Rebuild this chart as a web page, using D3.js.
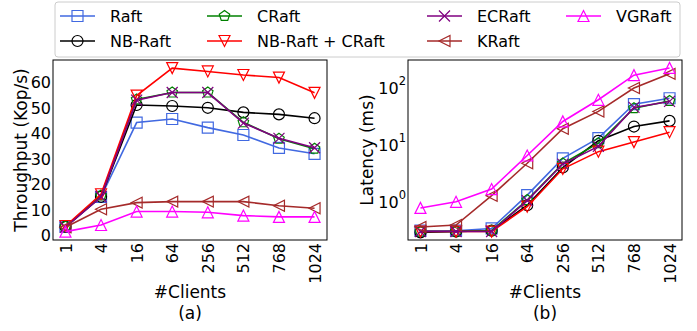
<!DOCTYPE html>
<html>
<head>
<meta charset="utf-8">
<script src="https://cdn.jsdelivr.net/npm/d3@7"></script>
<style>
  body { margin: 0; background: #fff; }
  text { font-family: "DejaVu Sans", sans-serif; fill: #000; }
</style>
</head>
<body>
<div class="canvas"></div>
<script>
const clients = ['1', '4', '16', '64', '256', '512', '768', '1024'];

const seriesNames = ['Raft', 'NB-Raft', 'CRaft', 'NB-Raft + CRaft', 'ECRaft', 'KRaft', 'VGRaft'];
const seriesColors = ['#4169e1', '#000000', '#008000', '#ff0000', '#800080', '#a52a2a', '#ff00ff'];
const seriesMarkers = ['square', 'circle', 'pentagon', 'tridown', 'cross', 'trileft', 'triup'];

// throughput (Kop/s)
const tputRaft = [3.3, 15.0, 44.2, 45.6, 42.2, 39.3, 34.2, 31.9];
const tputNB = [3.2, 15.0, 51.1, 50.7, 50.0, 48.2, 47.4, 45.9];
const tputCRaft = [3.3, 15.5, 53.3, 56.0, 56.0, 44.3, 37.8, 33.9];
const tputNBC = [3.5, 16.0, 54.8, 65.6, 64.3, 62.9, 61.9, 55.9];
const tputEC = [3.0, 15.0, 53.0, 56.0, 56.0, 44.0, 38.0, 34.3];
const tputK = [3.0, 10.1, 12.7, 13.1, 13.1, 13.1, 11.5, 10.5];
const tputVG = [1.3, 3.9, 9.2, 9.2, 8.9, 7.6, 7.1, 7.1];

// latency (ms)
const latRaft = [0.31, 0.31, 0.34, 1.31, 5.8, 13.1, 52, 66];
const latNB = [0.29, 0.30, 0.31, 0.87, 4.0, 11.8, 21, 26.4];
const latCRaft = [0.30, 0.30, 0.31, 1.07, 4.7, 10.7, 44, 59];
const latNBC = [0.30, 0.30, 0.30, 0.82, 3.8, 7.6, 11.2, 16.7];
const latEC = [0.30, 0.30, 0.30, 1.05, 4.6, 9.4, 45.6, 58];
const latK = [0.36, 0.39, 1.28, 4.75, 19.2, 38.7, 100, 177];
const latVG = [0.78, 1.0, 1.67, 6.5, 25.8, 62, 168, 225];

const tputTicks = [0, 10, 20, 30, 40, 50, 60];
const latTicks = [1, 10, 100];

const tputSeries = [tputRaft, tputNB, tputCRaft, tputNBC, tputEC, tputK, tputVG];
const latSeries = [latRaft, latNB, latCRaft, latNBC, latEC, latK, latVG];

const svg = d3.select('.canvas')
    .append('svg')
    .attr('width', 697)
    .attr('height', 331);

// marker shapes, drawn hollow
function markerPath(type, s) {
    const r = s / 2;
    if (type === 'square') return `M${-r},${-r}H${r}V${r}H${-r}Z`;
    if (type === 'circle') return `M${-r},0A${r},${r} 0 1,0 ${r},0A${r},${r} 0 1,0 ${-r},0Z`;
    if (type === 'pentagon') {
        const pts = d3.range(5).map(i => {
            const a = -Math.PI / 2 + i * 2 * Math.PI / 5;
            return [r * Math.cos(a), r * Math.sin(a)];
        });
        return 'M' + pts.map(p => p.join(',')).join('L') + 'Z';
    }
    if (type === 'tridown') return `M${-r},${-r}L${r},${-r}L0,${r}Z`;
    if (type === 'triup') return `M${-r},${r}L${r},${r}L0,${-r}Z`;
    if (type === 'trileft') return `M${r},${-r}L${r},${r}L${-r},0Z`;
    if (type === 'cross') return `M${-r},${-r}L${r},${r}M${-r},${r}L${r},${-r}`;
}

const plotTop = 60, plotBottom = 240;

function drawPanel(left, right, yScale, series, ticks, tickFormat, ylabel, labelX, caption, isLog) {
    const x = d3.scalePoint()
        .domain(clients)
        .range([left, right])
        .padding(0.35);

    const g = svg.append('g');

    // lines
    series.forEach((vals, i) => {
        const line = d3.line()
            .x((d, j) => x(clients[j]))
            .y(d => yScale(d));
        g.append('path')
            .attr('d', line(vals))
            .attr('fill', 'none')
            .attr('stroke', seriesColors[i])
            .attr('stroke-width', 1.6);
        g.selectAll(null)
            .data(vals)
            .enter()
            .append('path')
            .attr('transform', (d, j) => `translate(${x(clients[j])}, ${yScale(d)})`)
            .attr('d', markerPath(seriesMarkers[i], 11))
            .attr('fill', 'none')
            .attr('stroke', seriesColors[i])
            .attr('stroke-width', 1.2);
    });

    // frame
    svg.append('rect')
        .attr('x', left).attr('y', plotTop)
        .attr('width', right - left).attr('height', plotBottom - plotTop)
        .attr('fill', 'none')
        .attr('stroke', '#000')
        .attr('stroke-width', 1);

    // x axis (no visible tick marks)
    const xAxis = svg.append('g')
        .attr('transform', `translate(0, ${plotBottom})`)
        .call(d3.axisBottom(x).tickSize(0).tickSizeOuter(0));
    xAxis.select('.domain').remove();
    xAxis.selectAll('text')
        .attr('font-size', 16)
        .attr('transform', 'rotate(-90)')
        .attr('text-anchor', 'end')
        .attr('x', -3)
        .attr('y', 0)
        .attr('dy', '0.35em');

    // y axis
    const yAxis = svg.append('g')
        .attr('transform', `translate(${left}, 0)`)
        .call(d3.axisLeft(yScale).tickValues(ticks).tickSize(0).tickSizeOuter(0).tickFormat(''));
    yAxis.select('.domain').remove();
    yAxis.selectAll('.tick').each(function(d) {
        const t = d3.select(this).append('text')
            .attr('x', -2)
            .attr('dy', '0.35em')
            .attr('text-anchor', 'end')
            .attr('font-size', 16);
        if (isLog) {
            t.append('tspan').text('10');
            t.append('tspan')
                .attr('font-size', 11.5)
                .attr('dy', '-0.75em')
                .text(Math.round(Math.log10(d)));
        } else {
            t.text(tickFormat(d));
        }
    });

    svg.append('text')
        .attr('transform', `translate(${labelX}, ${(plotTop + plotBottom) / 2}) rotate(-90)`)
        .attr('text-anchor', 'middle')
        .attr('dy', '0.35em')
        .attr('font-size', 17)
        .text(ylabel);

    svg.append('text')
        .attr('x', (left + right) / 2)
        .attr('y', 298)
        .attr('text-anchor', 'middle')
        .attr('font-size', 17)
        .text('#Clients');

    svg.append('text')
        .attr('x', (left + right) / 2)
        .attr('y', 319)
        .attr('text-anchor', 'middle')
        .attr('font-size', 17)
        .text(caption);
}

const yTput = d3.scaleLinear().domain([-2, 68.8]).range([plotBottom, plotTop]);
const yLat = d3.scaleLog().domain([0.213, 310]).range([plotBottom, plotTop]);

drawPanel(53, 327, yTput, tputSeries, tputTicks, d3.format('d'), 'Throughput (Kop/s)', 21.5, '(a)', false);
drawPanel(408, 682, yLat, latSeries, latTicks, null, 'Latency (ms)', 367, '(b)', true);

// legend
const legend = svg.append('g');
legend.append('rect')
    .attr('x', 55).attr('y', 2)
    .attr('width', 625).attr('height', 55)
    .attr('rx', 3)
    .attr('fill', '#fff')
    .attr('stroke', '#ccc')
    .attr('stroke-width', 1);

const colX = [60, 207, 427, 566];
const rowY = [16, 41];

seriesNames.forEach((name, i) => {
    const col = Math.floor(i / 2);
    const row = i % 2;
    const lx = colX[col], ly = rowY[row];
    const item = legend.append('g');
    item.append('line')
        .attr('x1', lx).attr('x2', lx + 35)
        .attr('y1', ly).attr('y2', ly)
        .attr('stroke', seriesColors[i])
        .attr('stroke-width', 1.6);
    item.append('path')
        .attr('transform', `translate(${lx + 17.5}, ${ly})`)
        .attr('d', markerPath(seriesMarkers[i], 11))
        .attr('fill', 'none')
        .attr('stroke', seriesColors[i])
        .attr('stroke-width', 1.2);
    item.append('text')
        .attr('x', lx + 50)
        .attr('y', ly)
        .attr('dy', '0.35em')
        .attr('font-size', 16)
        .text(name);
});
</script>
</body>
</html>
